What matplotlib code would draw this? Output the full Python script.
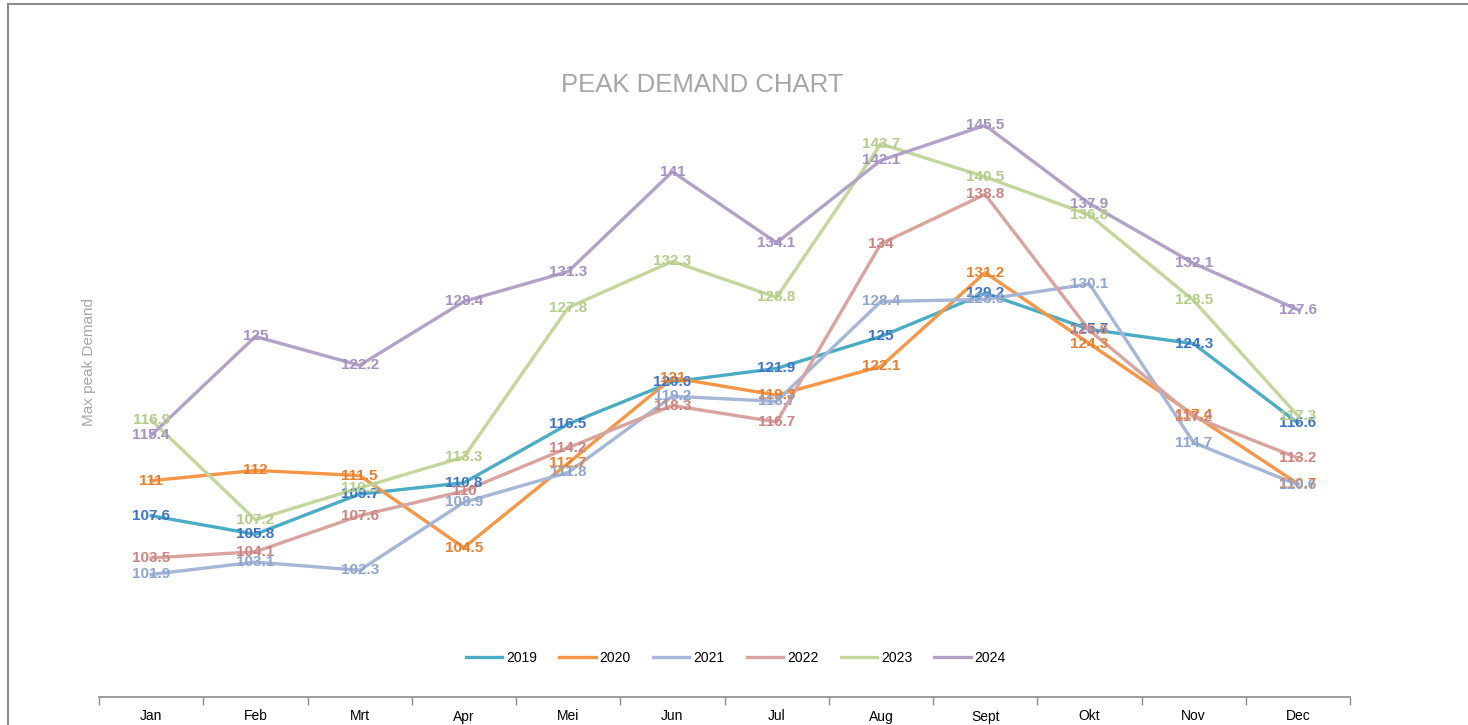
import matplotlib
matplotlib.use('agg')
import matplotlib.pyplot as plt
from matplotlib.lines import Line2D
import numpy as np

months = ['Jan', 'Feb', 'Mrt', 'Apr', 'Mei', 'Jun', 'Jul', 'Aug', 'Sept', 'Okt', 'Nov', 'Dec']
years = ['2019', '2020', '2021', '2022', '2023', '2024']

y2019 = [107.6, 105.8, 109.7, 110.8, 116.5, 120.6, 121.9, 125, 129.2, 125.7, 124.3, 116.6]
y2020 = [111, 112, 111.5, 104.5, 112.7, 121, 119.3, 122.1, 131.2, 124.3, 117.4, 110.7]
y2021 = [101.9, 103.1, 102.3, 108.9, 111.8, 119.2, 118.7, 128.4, 128.6, 130.1, 114.7, 110.6]
y2022 = [103.5, 104.1, 107.6, 110, 114.2, 118.3, 116.7, 134, 138.8, 125.6, 117.2, 113.2]
y2023 = [116.9, 107.2, 110.3, 113.3, 127.8, 132.3, 128.8, 143.7, 140.5, 136.8, 128.5, 117.3]
y2024 = [115.4, 125, 122.2, 128.4, 131.3, 141, 134.1, 142.1, 145.5, 137.9, 132.1, 127.6]
series = [y2019, y2020, y2021, y2022, y2023, y2024]

lineColors = ['#4BACC6', '#F79646', '#A5B6D7', '#D9A3A0', '#C3D69B', '#B3A2C7']
labelColors = ['#3F74C2', '#E4802F', '#8EA5CF', '#CC8582', '#B3CD8A', '#A591C2']

plt.rcParams['font.family'] = ['Liberation Sans', 'DejaVu Sans']

fig = plt.figure(figsize=(14.68, 7.25), dpi=100)
ax = fig.add_axes([99 / 1468, 1 - 697 / 725, (1350 - 99) / 1468, (697 - 79) / 725])

x = np.arange(len(months))
handles = []
for i in range(len(years)):
    h, = ax.plot(x, series[i], color=lineColors[i], linewidth=2.4, zorder=3,
                 solid_joinstyle='round', label=years[i])
    handles.append(h)
for i in range(len(years)):
    for xi, v in zip(x, series[i]):
        ax.text(xi, v, ('%g' % v), ha='center', va='center', fontsize=11,
                fontweight='bold', color=labelColors[i], zorder=5)

ax.set_xlim(-0.5, 11.5)
ax.set_ylim(90, 150)
for s in ['top', 'right', 'left']:
    ax.spines[s].set_visible(False)
ax.spines['bottom'].set_color('#8C8C8C')
ax.spines['bottom'].set_linewidth(1.2)
ax.set_yticks([])
ax.set_xticks(x)
ax.set_xticklabels(months, fontsize=10)
ax.set_xticks(np.arange(-0.5, 12, 1), minor=True)
ax.tick_params(axis='x', which='major', length=0, pad=9)
ax.tick_params(axis='x', which='minor', length=6, color='#8C8C8C', width=1)

# y axis title sits a bit above the plot centre, like the original
fig.text(89 / 1468, 1 - 362 / 725, 'Max peak Demand', rotation=90, ha='center', va='center',
         fontsize=11, color='#A6A6A6')

fig.text(702 / 1468, 1 - 85 / 725, 'PEAK DEMAND CHART', ha='center', va='center',
         fontsize=18.5, color='#A6A6A6')

fig.legend(handles=handles, loc='center', bbox_to_anchor=(736 / 1468, 1 - 658 / 725),
           ncol=6, frameon=False, fontsize=10, handlelength=2.6, columnspacing=1.6,
           handletextpad=0.3)

# outer chart border (left and top only visible)
fig.add_artist(Line2D([8 / 1468, 8 / 1468], [0, 1 - 4 / 725], transform=fig.transFigure,
                      color='#8C8C8C', linewidth=1.5))
fig.add_artist(Line2D([8 / 1468, 1], [1 - 4 / 725, 1 - 4 / 725], transform=fig.transFigure,
                      color='#8C8C8C', linewidth=1.5))

fig.savefig('out.png', dpi=100)
